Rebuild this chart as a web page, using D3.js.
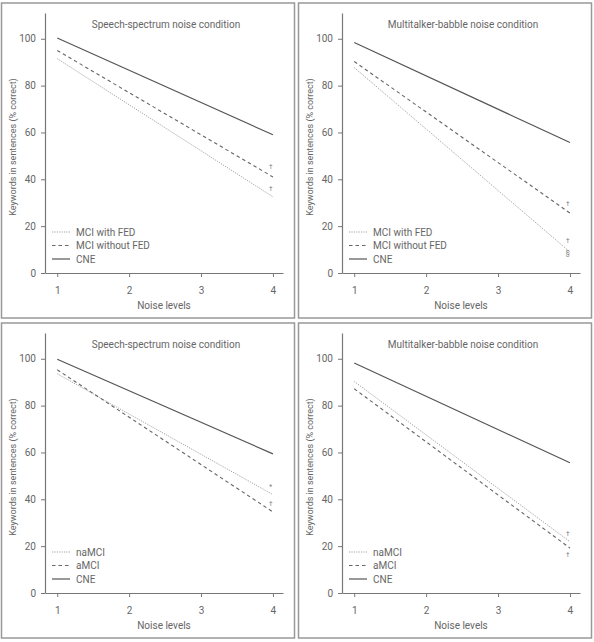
<!DOCTYPE html>
<html><head><meta charset="utf-8">
<script src="https://cdn.jsdelivr.net/npm/d3@7/dist/d3.min.js"></script>
<style>body{margin:0;background:#fff;}svg{display:block;font-family:Roboto,"Noto Sans",sans-serif;}</style>
</head><body><svg id="c" width="594" height="642"></svg>
<script>
const noiseLevels = [1, 2, 3, 4];
const yTicks = [0, 20, 40, 60, 80, 100];
const titles = ["Speech-spectrum noise condition", "Multitalker-babble noise condition",
                "Speech-spectrum noise condition", "Multitalker-babble noise condition"];
// top row: FED grouping
const fedLabels = ["MCI with FED", "MCI without FED", "CNE"];
const ssWithFED = [91.5, null, null, 32.5];
const ssWithoutFED = [95, null, null, 41];
const ssCNE = [100.3, null, null, 59];
const mbWithFED = [87.7, null, null, 9];
const mbWithoutFED = [90.3, null, null, 25.6];
const mbCNE = [98.4, null, null, 55.7];
// bottom row: MCI subtype grouping
const subLabels = ["naMCI", "aMCI", "CNE"];
const ssNaMCI = [93.6, null, null, 42];
const ssAMCI = [95.3, null, null, 34.6];
const ssCNE2 = [99.8, null, null, 59.4];
const mbNaMCI = [90.3, null, null, 21.9];
const mbAMCI = [87.2, null, null, 19.2];
const mbCNE2 = [98.2, null, null, 55.6];
// significance marks: [value position, symbol]
const marks = [
  [[45.5, "†"], [36, "†"]],
  [[29.5, "†"], [13.8, "†"], [8.6, "§"]],
  [[45.5, "*"], [38, "†"]],
  [[25.5, "†"], [16.5, "†"]]
];

const panels = [
  {dx: 0, dy: 0, labels: fedLabels, series: [ssWithFED, ssWithoutFED, ssCNE]},
  {dx: 297, dy: 0, labels: fedLabels, series: [mbWithFED, mbWithoutFED, mbCNE]},
  {dx: 0, dy: 320, labels: subLabels, series: [ssNaMCI, ssAMCI, ssCNE2]},
  {dx: 297, dy: 320, labels: subLabels, series: [mbNaMCI, mbAMCI, mbCNE2]}
];
const styles = [
  {dash: "1.2,1.2", width: 0.9, color: "#999"},
  {dash: "3.5,3", width: 1.1, color: "#666"},
  {dash: null, width: 1.2, color: "#555"}
];
const txt = "#666";
const fs = 10;
const svg = d3.select("#c");

panels.forEach((p, i) => {
  const g = svg.append("g").attr("transform", `translate(${p.dx},${p.dy})`);
  g.append("rect").attr("x", 1.5).attr("y", 3).attr("width", 293).attr("height", 315)
    .attr("fill", "none").attr("stroke", "#999").attr("stroke-width", 1.5);
  const x = d3.scaleLinear().domain([0.83, 4.14]).range([45, 283]);
  const y = d3.scaleLinear().domain([0, 111]).range([273, 13]);

  const xa = g.append("g").attr("transform", "translate(0,273)")
    .call(d3.axisBottom(x).tickValues(noiseLevels).tickFormat(d3.format("d")).tickSize(4).tickSizeOuter(0));
  const ya = g.append("g").attr("transform", "translate(45,0)")
    .call(d3.axisLeft(y).tickValues(yTicks).tickSize(4).tickSizeOuter(0));
  [xa, ya].forEach(a => {
    a.select(".domain").attr("stroke", "#777").attr("stroke-width", 1.2);
    a.selectAll(".tick line").attr("stroke", "#777");
    a.selectAll(".tick text").attr("fill", txt).attr("font-size", fs)
      .attr("font-family", "Roboto,'Noto Sans',sans-serif");
  });
  xa.selectAll(".tick text").attr("dy", "1.35em");
  ya.selectAll(".tick text").attr("dx", "-0.2em");

  g.append("text").attr("x", 166).attr("y", 28).attr("text-anchor", "middle")
    .attr("font-size", fs).attr("fill", txt).text(titles[i]);
  g.append("text").attr("x", 164).attr("y", 309).attr("text-anchor", "middle")
    .attr("font-size", fs).attr("fill", txt).text("Noise levels");
  g.append("text").attr("transform", `translate(16,147) rotate(-90)`).attr("text-anchor", "middle")
    .attr("font-size", 9).attr("fill", txt).text("Keywords in sentences (% correct)");

  const line = d3.line().defined(d => d[1] != null).x(d => x(d[0])).y(d => y(d[1]));
  p.series.forEach((s, k) => {
    const pts = noiseLevels.map((n, j) => [n, s[j]]).filter(d => d[1] != null);
    const st = styles[k];
    g.append("path").attr("d", line(pts)).attr("fill", "none")
      .attr("stroke", st.color).attr("stroke-width", st.width)
      .attr("stroke-dasharray", st.dash);
    const ly = 232 + k * 13.5;
    g.append("line").attr("x1", 52).attr("x2", 70).attr("y1", ly).attr("y2", ly)
      .attr("stroke", st.color).attr("stroke-width", st.width).attr("stroke-dasharray", st.dash);
    g.append("text").attr("x", 76).attr("y", ly + 3.5).attr("font-size", fs)
      .attr("fill", txt).text(p.labels[k]);
  });

  marks[i].forEach(m => {
    g.append("text").attr("x", x(3.97)).attr("y", y(m[0]) + 2.5).attr("text-anchor", "middle")
      .attr("font-size", 6.5).attr("fill", "#777").text(m[1]);
  });
});
</script></body></html>
